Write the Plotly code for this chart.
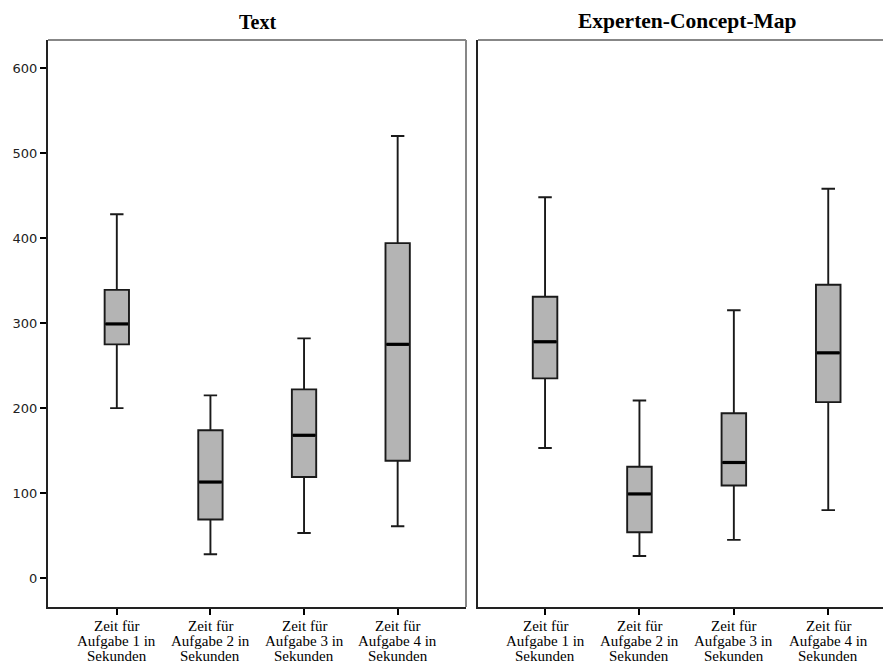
import plotly.graph_objects as go

tasks = [1, 2, 3, 4]
tick_labels = ["Zeit für<br>Aufgabe 1 in<br>Sekunden", "Zeit für<br>Aufgabe 2 in<br>Sekunden",
               "Zeit für<br>Aufgabe 3 in<br>Sekunden", "Zeit für<br>Aufgabe 4 in<br>Sekunden"]
panel_titles = ["Text", "Experten-Concept-Map"]
y_ticks = [0, 100, 200, 300, 400, 500, 600]

# Text condition
text_low = [200, 28, 53, 61]
text_q1 = [275, 69, 119, 138]
text_med = [299, 113, 168, 275]
text_q3 = [339, 174, 222, 394]
text_high = [428, 215, 282, 520]

# Expert concept map condition
map_low = [153, 26, 45, 80]
map_q1 = [235, 54, 109, 207]
map_med = [278, 99, 136, 265]
map_q3 = [331, 131, 194, 345]
map_high = [448, 209, 315, 458]

BOX_W = 0.26
fig = go.Figure()

panels = [
    (text_low, text_q1, text_med, text_q3, text_high, "x", "y"),
    (map_low, map_q1, map_med, map_q3, map_high, "x2", "y2"),
]
for low, q1, med, q3, high, xa, ya in panels:
    fig.add_trace(go.Box(
        x=tasks, q1=q1, median=med, q3=q3, lowerfence=low, upperfence=high,
        width=BOX_W, whiskerwidth=0.55, fillcolor="#b4b4b4",
        line=dict(color="#1a1a1a", width=1.9), boxpoints=False,
        xaxis=xa, yaxis=ya, showlegend=False, hoverinfo="skip"))
    for xi, m in zip(tasks, med):
        fig.add_trace(go.Scatter(
            x=[xi - BOX_W / 2 + 0.01, xi + BOX_W / 2 - 0.01], y=[m, m], mode="lines",
            line=dict(color="black", width=3.2), xaxis=xa, yaxis=ya,
            showlegend=False, hoverinfo="skip"))

xfont = dict(family="Liberation Serif, serif", size=15, color="black")
yfont = dict(family="DejaVu Sans, sans-serif", size=13, color="#222")
common_x = dict(tickvals=tasks, showticklabels=False, ticks="outside", ticklen=6, tickwidth=2,
                tickcolor="black", showline=True, linecolor="#222", linewidth=2,
                showgrid=False, zeroline=False, fixedrange=True)
common_y = dict(range=[-34, 633], showgrid=False, zeroline=False, showline=True,
                linecolor="#222", linewidth=2, fixedrange=True)

annotations = [
    dict(text="<b>" + panel_titles[0] + "</b>", xref="x domain", yref="paper", x=0.5, y=1,
         yshift=5, yanchor="bottom", showarrow=False,
         font=dict(family="Liberation Serif, serif", size=20, color="black")),
    dict(text="<b>" + panel_titles[1] + "</b>", xref="x2", yref="paper", x=2.51,
         y=1, yshift=5, yanchor="bottom", showarrow=False,
         font=dict(family="Liberation Serif, serif", size=21.5, color="black")),
]
# category labels, one annotation per text line so the tight line spacing can be matched
for xa in ["x", "x2"]:
    for xi, lab in zip(tasks, tick_labels):
        for k, line in enumerate(lab.split("<br>")):
            annotations.append(dict(text=line, xref=xa, yref="paper", x=xi, y=0,
                                    yanchor="middle", yshift=-19 - 15 * k, showarrow=False,
                                    font=xfont))

fig.update_layout(
    width=883, height=664,
    margin=dict(l=48, r=0, t=40, b=57, autoexpand=False),
    paper_bgcolor="white", plot_bgcolor="white",
    xaxis=dict(domain=[0, 0.5006], range=[0.265, 4.73], anchor="y", **common_x),
    xaxis2=dict(domain=[0.515, 1.0], range=[0.29, 4.58], anchor="y2", **common_x),
    yaxis=dict(anchor="x", tickvals=y_ticks, ticks="outside",
               ticklen=6, tickwidth=2, tickcolor="black", tickfont=yfont, **common_y),
    yaxis2=dict(anchor="x2", showticklabels=False, ticks="", **common_y),
    shapes=[
        dict(type="line", xref="x domain", yref="y domain", x0=0, x1=1, y0=1, y1=1,
             line=dict(color="#878787", width=2)),
        dict(type="line", xref="x domain", yref="y domain", x0=1, x1=1, y0=0, y1=1,
             line=dict(color="#878787", width=2)),
        dict(type="line", xref="x2 domain", yref="y2 domain", x0=0, x1=1.01, y0=1, y1=1,
             line=dict(color="#878787", width=2)),
    ],
    annotations=annotations,
)

fig.write_html("out.html", config={"displayModeBar": False},
               post_script="document.body.style.margin='0';document.body.style.overflow='hidden';")
